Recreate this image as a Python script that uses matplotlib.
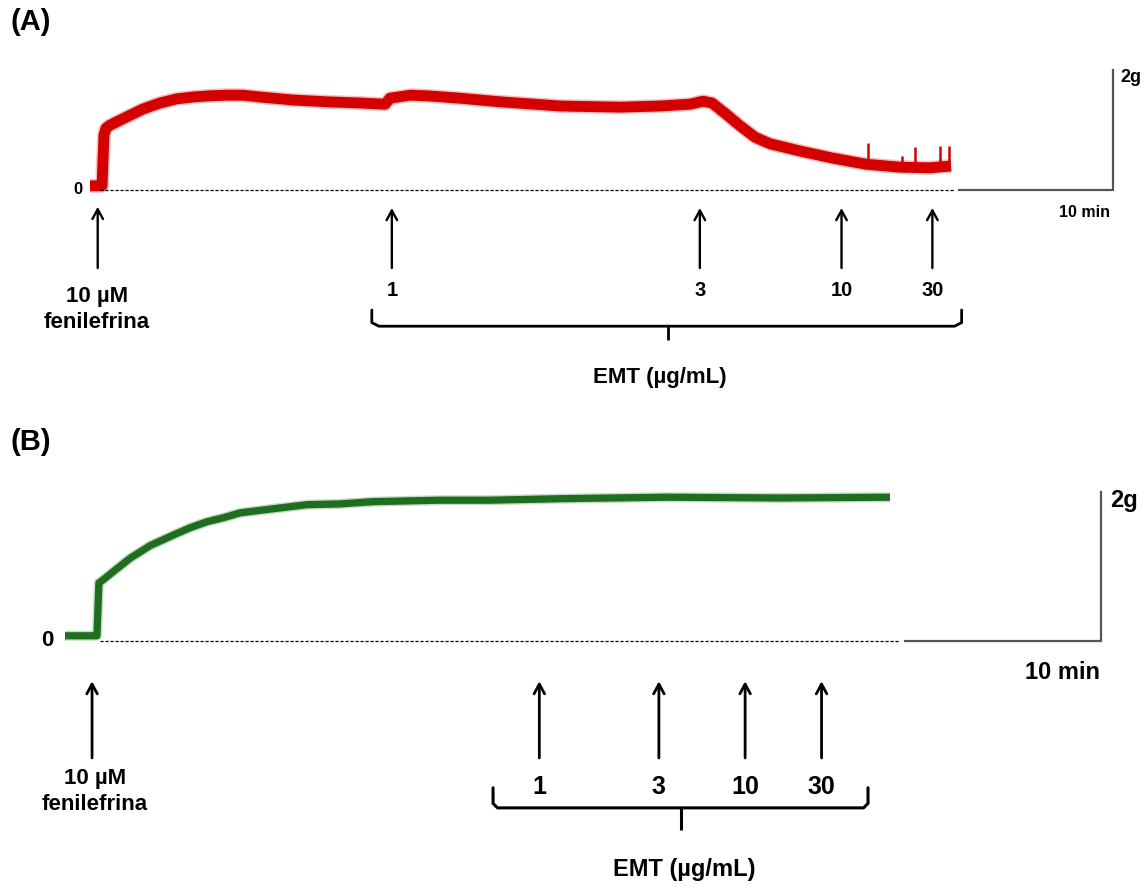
import matplotlib
matplotlib.use('Agg')
import matplotlib.pyplot as plt

plt.rcParams['font.family'] = ['Liberation Sans', 'DejaVu Sans']
plt.rcParams['font.weight'] = 'bold'

# (A) phenylephrine contraction, then cumulative EMT -> relaxation
# time in min from start of recording, tension in g
a_time = [0.0, 0.78, 0.91, 1.04, 1.30, 2.40, 3.44, 4.55, 5.65, 6.69, 7.79, 8.90,
          9.94, 11.04, 13.18, 15.39, 17.53, 19.16, 19.48, 20.78, 21.88, 24.03,
          26.62, 30.52, 34.42, 37.01, 38.96, 39.81, 40.39, 41.23, 42.21, 43.18,
          44.16, 46.10, 48.25, 50.39, 52.60, 54.55, 55.91]
a_force = [0.07, 0.07, 0.92, 1.03, 1.08, 1.22, 1.35, 1.45, 1.52, 1.55, 1.57, 1.58,
           1.58, 1.55, 1.50, 1.47, 1.45, 1.43, 1.53, 1.58, 1.57, 1.53,
           1.47, 1.40, 1.38, 1.40, 1.43, 1.48, 1.45, 1.28, 1.07, 0.88,
           0.77, 0.65, 0.53, 0.43, 0.38, 0.37, 0.40]
a_spike_time = [50.5, 52.7, 53.6, 55.2, 55.8]
a_spike_top = [0.78, 0.57, 0.72, 0.74, 0.74]
a_phe_time = 0.5
a_dose_time = [19.6, 39.6, 48.8, 54.7]
a_dose_label = ['1', '3', '10', '30']

# (B) phenylephrine contraction with EMT added, no relaxation
b_time = [0.0, 1.63, 1.73, 1.94, 2.55, 3.32, 4.34, 5.51, 6.38, 7.24, 8.16, 8.93,
          10.46, 12.35, 14.03, 15.71, 19.13, 21.68, 25.26, 30.71, 36.48, 42.09]
b_force = [0.07, 0.07, 0.78, 0.82, 0.95, 1.11, 1.28, 1.42, 1.52, 1.60, 1.66, 1.72,
           1.77, 1.83, 1.84, 1.87, 1.89, 1.89, 1.91, 1.93, 1.92, 1.93]
b_phe_time = 1.38
b_dose_time = [24.2, 30.3, 34.7, 38.6]
b_dose_label = ['1', '3', '10', '30']

W, H = 1148, 889
fig = plt.figure(figsize=(W / 100, H / 100), dpi=100)


def panel(top, bottom, x0, px_min, y0, px_g):
    # full-width axes between two pixel rows; t=0 sits at x0, 0 g at y0
    ax = fig.add_axes([0, 1 - bottom / H, 1, (bottom - top) / H])
    ax.set_xlim(-x0 / px_min, (W - x0) / px_min)
    ax.set_ylim((y0 - bottom) / px_g, (y0 - top) / px_g)
    ax.axis('off')
    return ax


def brace(ax, x0, x1, xc, top, mid, bot, lw):
    r = (x1 - x0) * 0.012
    ax.plot([x0, x0, x0 + r, x1 - r, x1, x1], [top, mid + 0.06, mid, mid, mid + 0.06, top],
            color='black', lw=lw, solid_joinstyle='round', solid_capstyle='round')
    ax.plot([xc, xc], [mid, bot], color='black', lw=lw, solid_capstyle='butt')


def arrow(ax, x, tip, tail, lw):
    ax.annotate('', xy=(x, tip), xytext=(x, tail),
                arrowprops=dict(arrowstyle='->,head_length=0.7,head_width=0.38',
                                lw=lw, color='black', shrinkA=0, shrinkB=0))


def scale_bar(ax, x0, x1, color='#555555'):
    ax.plot([x0, x1, x1], [0, 0, 2], color=color, lw=1.6, solid_joinstyle='miter')


# ---------------- panel A ----------------
ax = panel(0, 440, 90, 15.4, 190, 60)
ax.plot(a_time, a_force, color='#e03030', lw=10, alpha=0.3,
        solid_capstyle='butt', solid_joinstyle='round')
ax.plot(a_time, a_force, color='#d40000', lw=7.8,
        solid_capstyle='butt', solid_joinstyle='round')
ax.vlines(a_spike_time, [0.4] * len(a_spike_time), a_spike_top, color='#d40000', lw=1.8)
ax.plot([0.65, 56.1], [0, 0], color='black', lw=0.9, ls=(0, (2.5, 1.5)))
scale_bar(ax, 56.4, 66.4)
ax.text(66.9, 1.88, '2g', fontsize=13, ha='left', va='center')
ax.text(64.6, -0.38, '10 min', fontsize=11.5, ha='center', va='center')
ax.text(-0.78, 0, '0', fontsize=12, ha='center', va='center')

arrow(ax, a_phe_time, -0.28, -1.3, 1.7)
ax.text(0.45, -1.77, '10 µM', fontsize=16, ha='center', va='center')
ax.text(0.45, -2.2, 'fenilefrina', fontsize=16, ha='center', va='center')
for t, lab in zip(a_dose_time, a_dose_label):
    arrow(ax, t, -0.3, -1.3, 1.7)
    ax.text(t, -1.68, lab, fontsize=14.5, ha='center', va='center')
brace(ax, 18.3, 56.6, 37.5, -2.0, -2.27, -2.5, 2.0)
ax.text(37.0, -3.13, 'EMT (µg/mL)', fontsize=16, ha='center', va='center')

# ---------------- panel B ----------------
ax = panel(420, 889, 65, 19.6, 641, 74.5)
ax.plot(b_time, b_force, color='#3d8c3d', lw=7.2, alpha=0.3,
        solid_capstyle='butt', solid_joinstyle='round')
ax.plot(b_time, b_force, color='#1f6e1f', lw=5.2,
        solid_capstyle='butt', solid_joinstyle='round')
ax.plot([1.79, 42.6], [0, 0], color='black', lw=0.9, ls=(0, (2.5, 1.5)))
scale_bar(ax, 42.86, 52.86)
ax.text(53.3, 1.89, '2g', fontsize=17, ha='left', va='center')
ax.text(50.9, -0.42, '10 min', fontsize=17, ha='center', va='center')
ax.text(-0.92, 0, '0', fontsize=16, ha='center', va='center')

arrow(ax, b_phe_time, -0.54, -1.57, 2.0)
ax.text(1.53, -1.84, '10 µM', fontsize=16, ha='center', va='center')
ax.text(1.53, -2.19, 'fenilefrina', fontsize=16, ha='center', va='center')
for t, lab in zip(b_dose_time, b_dose_label):
    arrow(ax, t, -0.54, -1.57, 2.0)
    ax.text(t, -1.96, lab, fontsize=18, ha='center', va='center')
brace(ax, 21.84, 40.97, 31.43, -1.97, -2.24, -2.54, 2.2)
ax.text(31.6, -3.07, 'EMT (µg/mL)', fontsize=17, ha='center', va='center')

fig.text(10 / W, 1 - 22 / H, '(A)', fontsize=21, ha='left', va='center')
fig.text(10 / W, 1 - 442 / H, '(B)', fontsize=21, ha='left', va='center')

fig.savefig('out.png', dpi=100, facecolor='white')
